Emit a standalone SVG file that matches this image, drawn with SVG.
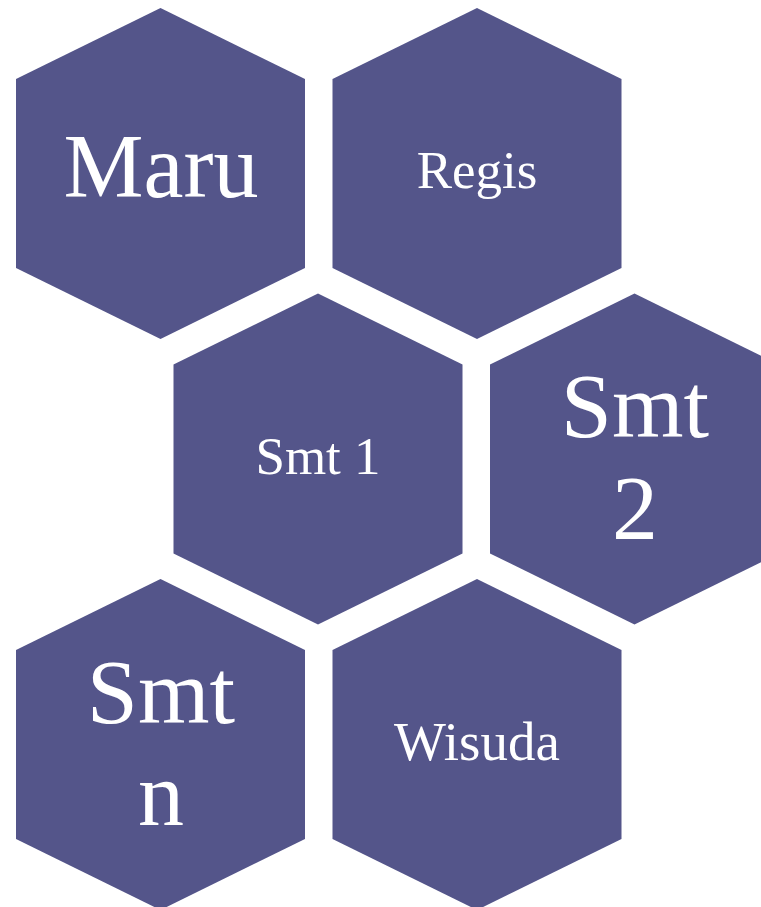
<svg xmlns="http://www.w3.org/2000/svg" width="761" height="907" viewBox="0 0 761 907">
<defs>
<style>
.hex{fill:#54558a;}
.t{fill:#ffffff;font-family:"Liberation Serif","DejaVu Serif",serif;text-anchor:middle;}
.big{font-size:92px;}
</style>
<polygon id="hexshape" points="144.5,0 289,71 289,260 144.5,331 0,260 0,71"/>
</defs>
<rect width="761" height="907" fill="#ffffff"/>
<g id="connectors"></g>
<g id="node-maru">
<use href="#hexshape" class="hex" x="16" y="8"/>
<text class="t" x="161" y="197" font-size="90">Maru</text>
</g>
<g id="node-regis">
<use href="#hexshape" class="hex" x="332.5" y="8"/>
<text class="t" x="477" y="188" font-size="53">Regis</text>
</g>
<g id="node-smt1">
<use href="#hexshape" class="hex" x="173.5" y="293.5"/>
<text class="t" x="318" y="474" font-size="53">Smt 1</text>
</g>
<g id="node-smt2">
<use href="#hexshape" class="hex" x="490" y="293.5"/>
<text class="t big" x="635" y="437">Smt</text>
<text class="t big" x="635" y="539">2</text>
</g>
<g id="node-smtn">
<use href="#hexshape" class="hex" x="16" y="579"/>
<text class="t big" x="161" y="723">Smt</text>
<text class="t big" x="161" y="825">n</text>
</g>
<g id="node-wisuda">
<use href="#hexshape" class="hex" x="332.5" y="579"/>
<text class="t" x="477" y="760" font-size="55">Wisuda</text>
</g>
</svg>
